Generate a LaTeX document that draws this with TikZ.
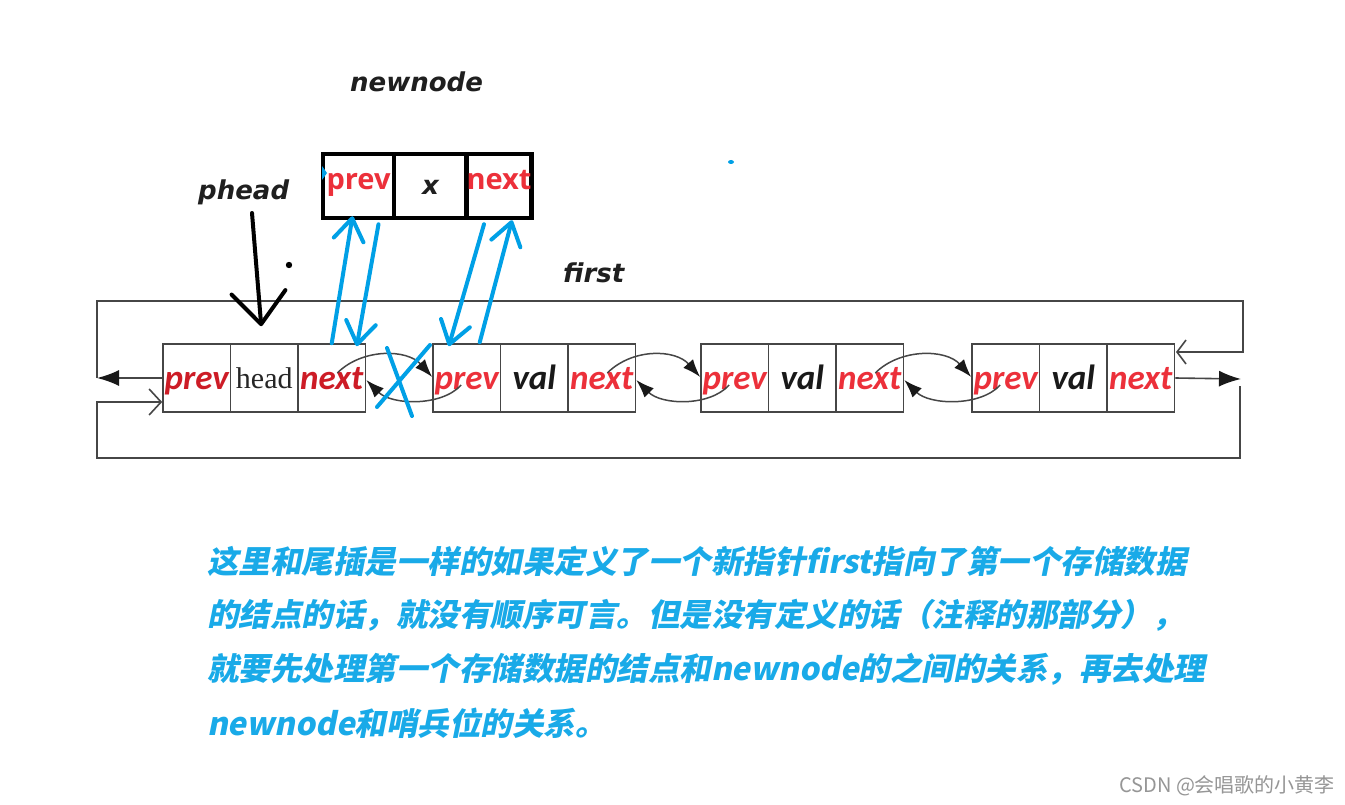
\documentclass[tikz,border=0pt]{standalone}
\usepackage{fontspec}
\usetikzlibrary{arrows.meta,calc}
\newfontfamily\calfont{Carlito}
\newfontfamily\osfont{Open Sans}
\newfontfamily\djfont{DejaVu Sans}
\newfontfamily\headfont{Liberation Serif}
\newfontfamily\cjkfont[FakeSlant=0.2]{Noto Sans CJK SC}
\newfontfamily\cjkwm{Noto Sans CJK SC}
\definecolor{nred}{RGB}{236,48,58}
\definecolor{dred}{RGB}{205,28,38}
\definecolor{nblue}{RGB}{0,160,230}
\definecolor{tblue}{RGB}{25,170,232}
\definecolor{lgray}{RGB}{70,70,70}
\definecolor{wgray}{RGB}{150,150,150}
\tikzset{
  cell/.style={draw=lgray, line width=1.6pt, minimum width=67.5pt, minimum height=68pt,
    inner sep=0pt, text depth=0pt, text height=23pt},
  ptr/.style={cell, text=nred, font=\calfont\bfseries\itshape\fontsize{35}{40}\selectfont},
  ptrd/.style={ptr, text=dred},
  valc/.style={cell, text=black!90, font=\calfont\bfseries\itshape\fontsize{35}{40}\selectfont},
  headc/.style={cell, text=black!85, text height=20pt, font=\headfont\fontsize{30}{34}\selectfont},
  ncell/.style={draw=black, line width=4.5pt, minimum height=64pt, inner sep=0pt,
    text depth=0pt, text height=8pt},
  nptr/.style={ncell, text=nred, font=\osfont\bfseries\fontsize{29}{34}\selectfont},
  lbl/.style={anchor=base west, inner sep=0pt, text=black!88,
    font=\djfont\bfseries\itshape\fontsize{26}{30}\selectfont},
  ctext/.style={anchor=base west, inner sep=0pt, text=tblue,
    font=\cjkfont\bfseries\fontsize{31.5}{38}\selectfont},
  gline/.style={draw=lgray, line width=1.6pt},
  bigtip/.style={-{Latex[length=22pt,width=16pt,fill=black!90,color=black!90]}},
  curv/.style={draw=lgray, line width=1.5pt, -{Latex[length=18pt,width=13pt,color=black!90]}},
  barrow/.style={draw=nblue, line width=4pt, line cap=round,
    -{Straight Barb[length=22pt,width=30pt,round]}},
  bstroke/.style={draw=nblue, line width=4pt, line cap=round},
}
\begin{document}
\begin{tikzpicture}[x=1pt,y=-1pt]
\useasboundingbox[fill=white] (0,0) rectangle (1345,805);

% list nodes
\node[ptrd]  (n1a) at (196.75,378) {prev};
\node[headc] (n1b) at (264.25,378) {head};
\node[ptrd]  (n1c) at (331.75,378) {next};
\node[ptr]   (n2a) at (466.75,378) {prev};
\node[valc]  (n2b) at (534.25,378) {val};
\node[ptr]   (n2c) at (601.75,378) {next};
\node[ptr]   (n3a) at (734.75,378) {prev};
\node[valc]  (n3b) at (802.25,378) {val};
\node[ptr]   (n3c) at (869.75,378) {next};
\node[ptr]   (n4a) at (1005.75,378) {prev};
\node[valc]  (n4b) at (1073.25,378) {val};
\node[ptr]   (n4c) at (1140.75,378) {next};

% newnode
\node[nptr, minimum width=71pt] (nwp) at (358.5,186) {prev};
\node[ncell, minimum width=73pt, text height=18pt, text=black!88,
  font=\djfont\bfseries\itshape\fontsize{26}{30}\selectfont] (nwx) at (430.5,186) {x};
\node[nptr, minimum width=64pt] (nwn) at (499,186) {next};

% labels
\node[lbl] (lnew) at (350,92) {newnode};
\node[lbl] (lph) at (198,200) {phead};
\node[lbl] (lfirst) at (563,283) {first};

% outer loops
\coordinate (Lp) at (97,378);
\coordinate (TL) at (97,301);
\coordinate (TR) at (1243,301);
\coordinate (Rin) at (1176,352);
\coordinate (Rp) at (1241,379);
\coordinate (BR) at (1240,386);
\coordinate (BL) at (97,458);
\draw[gline,bigtip] (n1a.west) -- (Lp);
\draw[gline,-{Straight Barb[length=9pt,width=24pt]}] (Lp) -- (TL) -- (TR) |- (Rin);
\draw[gline,bigtip] (n4c.east) -- (Rp);
\draw[gline,-{Straight Barb[length=12pt,width=26pt]}] (BR) |- (BL) |- ($(n1a.west)+(0,24)$);

% curved links
\foreach \a/\b in {n1c/n2a,n2c/n3a,n3c/n4a}{
  \draw[curv] ($(\a.east)+(-29,-5)$) .. controls +(25,-25) and +(-25,-28) .. ($(\b.west)+(0,-1)$);
  \draw[curv] ($(\b.west)+(29,7)$) .. controls +(-20,22) and +(25,25) .. ($(\a.east)+(0,2)$);
}

% blue arrows
\draw[barrow] (n1c.north) -- ($(nwp.south)+(-6,-4)$);
\draw[barrow] ($(nwp.south)+(20,4)$) -- ($(n1c.north)+(25,3)$);
\draw[barrow] ($(nwn.south)+(-15,4)$) -- ($(n2a.north)+(-18,3)$);
\draw[barrow] ($(n2a.north)+(13,-1)$) -- ($(nwn.south)+(13,0)$);

% blue cross
\coordinate (x1a) at (377,407); \coordinate (x1b) at (430,345);
\coordinate (x2a) at (387,348); \coordinate (x2b) at (412,416);
\draw[bstroke] (x1a) -- (x1b);
\draw[bstroke] (x2a) -- (x2b);

% phead arrow
\coordinate (ph0) at (252,213);
\draw[line width=4pt, black, line cap=round,
  -{Straight Barb[length=32pt,width=54pt,round]}] (ph0) -- ($(n1b.north)+(-3,-17)$);

% stray marks
\fill[black] (289,265) circle (3.2pt);
\fill[nblue] (731,162) ellipse (3pt and 2pt);
\fill[nblue] (322,166) -- (327,173) -- (322,180) -- cycle;

% explanation text
\node[ctext] (t1) at (207,573) {这里和尾插是一样的如果定义了一个新指针first指向了第一个存储数据};
\node[ctext] (t2) at (207,626) {的结点的话，就没有顺序可言。但是没有定义的话（注释的那部分），};
\node[ctext] (t3) at (207,680) {就要先处理第一个存储数据的结点和newnode的之间的关系，再去处理};
\node[ctext] (t4) at (207,735) {newnode和哨兵位的关系。};

% watermark
\node[anchor=base west, inner sep=0pt, text=wgray, font=\cjkwm\fontsize{20}{24}\selectfont]
  (wm) at (1119,792) {CSDN @会唱歌的小黄李};
\end{tikzpicture}
\end{document}
